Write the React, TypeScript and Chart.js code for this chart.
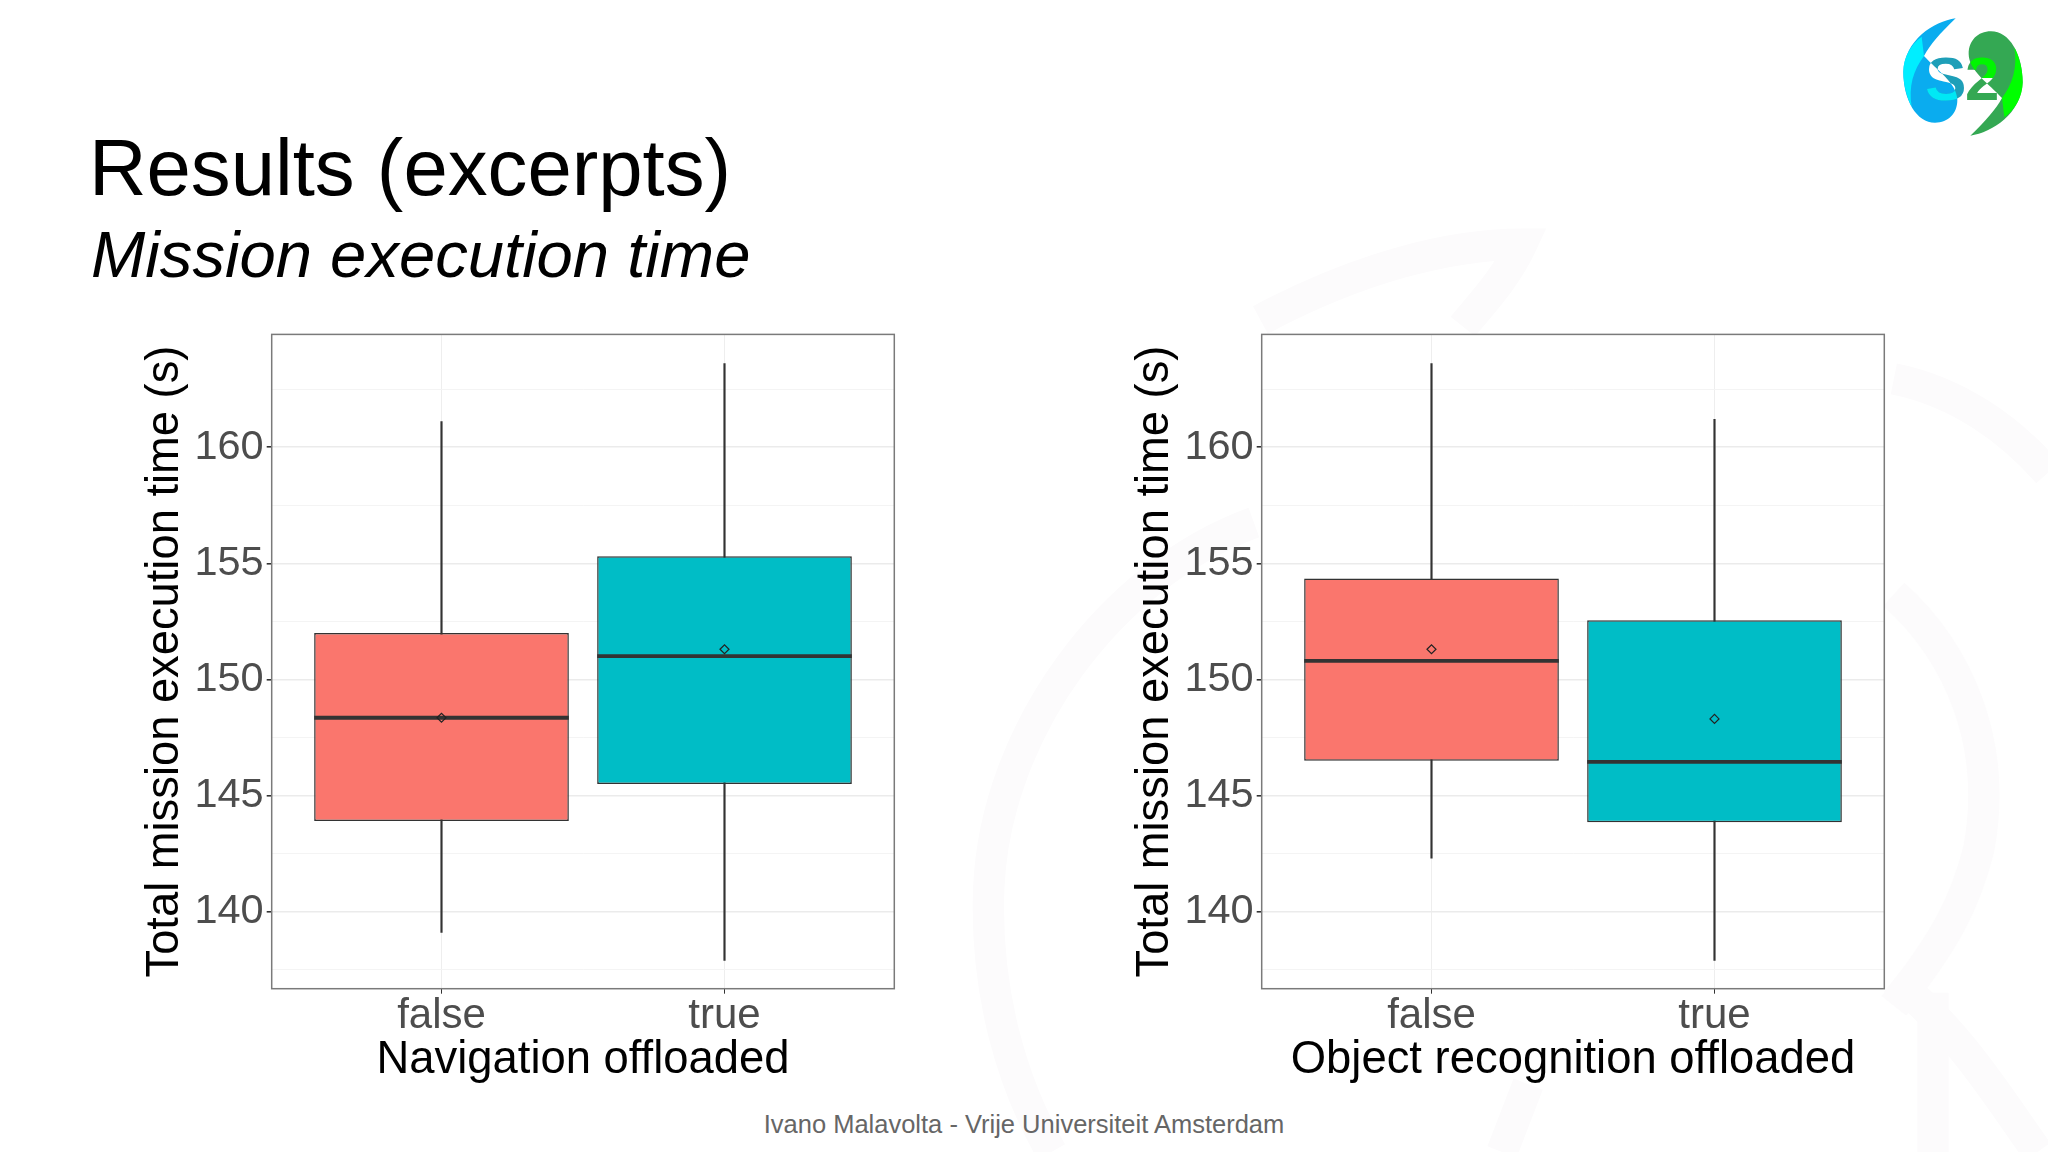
import { useEffect, useRef } from 'react';
import { Chart, registerables } from 'chart.js';

Chart.register(...registerables);

const categories = ['false', 'true'];
const categoryPositions = [1, 2];
const boxColors = ['#FA766D', '#00BDC6'];
const majorTicks = [140, 145, 150, 155, 160];
const allTicks = [137.5, 140, 142.5, 145, 147.5, 150, 152.5, 155, 157.5, 160, 162.5];

// left plot: navigation offloaded
const navLow = [139.1, 137.9];
const navQ1 = [143.9, 145.5];
const navMedian = [148.35, 151.0];
const navMean = [148.35, 151.3];
const navQ3 = [152.0, 155.3];
const navHigh = [161.1, 163.6];

// right plot: object recognition offloaded
const objLow = [142.3, 137.9];
const objQ1 = [146.5, 143.85];
const objMedian = [150.8, 146.45];
const objMean = [151.3, 148.3];
const objQ3 = [154.35, 152.55];
const objHigh = [163.6, 161.2];

const FONT = '"Liberation Sans", Arial, sans-serif';
const BOX_WIDTH = 0.9; // ggplot default, in category units

// white panel under the grid and the grey frame around it, as theme_bw does
const panelFrame = {
    id: 'panelFrame',
    beforeDraw(chart: Chart) {
        const { ctx, chartArea: a } = chart;
        ctx.save();
        ctx.fillStyle = '#ffffff';
        ctx.fillRect(a.left, a.top, a.width, a.height);
        ctx.restore();
    },
    afterDraw(chart: Chart) {
        const { ctx, chartArea: a } = chart;
        ctx.save();
        ctx.strokeStyle = '#7a7a7a';
        ctx.lineWidth = 1.5;
        ctx.strokeRect(a.left, a.top, a.width, a.height);
        ctx.restore();
    },
};

interface BoxPanelProps {
    left: number;
    xTitle: string;
    low: number[];
    q1: number[];
    median: number[];
    mean: number[];
    q3: number[];
    high: number[];
}

const BoxPanel = ({ left, xTitle, low, q1, median, mean, q3, high }: BoxPanelProps) => {
    const canvasRef = useRef<HTMLCanvasElement | null>(null);

    useEffect(() => {
        const ctx = canvasRef.current?.getContext('2d');
        if (!ctx) return;

        // each median is a short line across its box, with a gap between the two
        const medianSegments = categoryPositions.flatMap((x, i) => [
            { x: x - BOX_WIDTH / 2, y: median[i] },
            { x: x + BOX_WIDTH / 2, y: median[i] },
            { x: x + 0.5, y: null },
        ]);

        const chart = new Chart(ctx, {
            type: 'bar',
            data: {
                datasets: [
                    {
                        type: 'line',
                        label: 'mean',
                        data: categoryPositions.map((x, i) => ({ x, y: mean[i] })),
                        showLine: false,
                        pointStyle: 'rectRot',
                        pointRadius: 4.5,
                        pointBackgroundColor: 'rgba(0,0,0,0)',
                        pointBorderColor: '#222222',
                        pointBorderWidth: 1.2,
                        order: 0,
                    },
                    {
                        type: 'line',
                        label: 'median',
                        data: medianSegments,
                        borderColor: '#333333',
                        borderWidth: 3.8,
                        pointRadius: 0,
                        spanGaps: false,
                        order: 1,
                    },
                    {
                        type: 'bar',
                        label: 'box',
                        data: categoryPositions.map((x, i) => ({ x, y: [q1[i], q3[i]] })),
                        backgroundColor: boxColors,
                        borderColor: '#333333',
                        borderWidth: 1.5,
                        borderSkipped: false,
                        grouped: false,
                        barPercentage: BOX_WIDTH,
                        categoryPercentage: 1,
                        order: 2,
                    },
                    {
                        type: 'bar',
                        label: 'whisker',
                        data: categoryPositions.map((x, i) => ({ x, y: [low[i], high[i]] })),
                        backgroundColor: '#333333',
                        borderWidth: 0,
                        grouped: false,
                        barThickness: 1.5,
                        order: 3,
                    },
                ],
            },
            options: {
                animation: false,
                responsive: false,
                layout: { padding: { top: 6.4, right: 5.3, left: 0, bottom: 0 } },
                plugins: { legend: { display: false }, tooltip: { enabled: false } },
                scales: {
                    x: {
                        type: 'linear',
                        min: 0.4,
                        max: 2.6,
                        offset: false,
                        afterBuildTicks: (scale: any) => {
                            scale.ticks = categoryPositions.map((value) => ({ value }));
                        },
                        afterFit: (scale: any) => {
                            scale.height = 106.3;
                            scale.paddingLeft = 0;
                            scale.paddingRight = 0;
                        },
                        border: { display: false },
                        grid: { offset: false, color: '#EEEEEE', lineWidth: 1, tickColor: '#333333', tickLength: 5, drawOnChartArea: true },
                        ticks: {
                            autoSkip: false,
                            maxRotation: 0,
                            padding: -2.5,
                            color: '#4D4D4D',
                            font: { family: FONT, size: 42 },
                            callback: (value: any) => categories[categoryPositions.indexOf(Number(value))] ?? '',
                        },
                        title: {
                            display: true,
                            text: xTitle,
                            color: '#000000',
                            font: { family: FONT, size: 45.4 },
                            padding: { top: 0, bottom: 7 },
                        },
                    },
                    y: {
                        min: 136.68,
                        max: 164.86,
                        afterBuildTicks: (scale: any) => {
                            scale.ticks = allTicks.map((value) => ({ value }));
                        },
                        afterFit: (scale: any) => {
                            scale.width = 141.7;
                            scale.paddingTop = 0;
                            scale.paddingBottom = 0;
                        },
                        border: { display: false },
                        grid: {
                            color: (c: any) => (majorTicks.includes(c.tick?.value) ? '#EBEBEB' : '#F3F3F3'),
                            lineWidth: (c: any) => (majorTicks.includes(c.tick?.value) ? 1.6 : 0.9),
                            tickColor: (c: any) => (majorTicks.includes(c.tick?.value) ? '#333333' : 'rgba(0,0,0,0)'),
                            tickLength: 5,
                        },
                        ticks: {
                            autoSkip: false,
                            padding: 3,
                            color: '#4D4D4D',
                            font: { family: FONT, size: 41.5 },
                            callback: (value: any) => (majorTicks.includes(Number(value)) ? String(value) : ''),
                        },
                        title: {
                            display: true,
                            text: 'Total mission execution time (s)',
                            color: '#000000',
                            font: { family: FONT, size: 45.3 },
                            padding: { top: 8, bottom: 0 },
                        },
                    },
                },
            },
            plugins: [panelFrame],
        } as any);

        return () => {
            chart.destroy();
        };
    }, []);

    return (
        <canvas
            ref={canvasRef}
            width={770}
            height={767}
            style={{ position: 'absolute', left, top: 328, width: 770, height: 767 }}
        />
    );
};

const DROP = 'M317 55 C270 100 240 135 222 168 C260 210 322 250 322 300 C322 340 295 368 255 368 C200 368 160 300 160 215 C165 120 250 65 317 55 Z';
const CRESCENT = 'M215 110 C180 135 160 175 160 215 C160 255 170 290 185 320 C175 260 190 210 222 168 Z';

// the S2 logo: one drop, and the same drop turned around for the green half
const Logo = () => (
    <svg viewBox="0 0 594 480" width={198} height={160} style={{ position: 'absolute', left: 1850, top: 0 }}>
        <defs>
            <linearGradient id="sInside" x1="0" y1="0" x2="0" y2="1">
                <stop offset="0.62" stopColor="#ffffff" />
                <stop offset="0.62" stopColor="#00E8F5" />
            </linearGradient>
            <linearGradient id="twoInside" x1="0" y1="0" x2="0" y2="1">
                <stop offset="0.5" stopColor="#00F500" />
                <stop offset="0.5" stopColor="#ffffff" />
            </linearGradient>
            <clipPath id="blueDrop"><path d={DROP} /></clipPath>
            <clipPath id="greenDrop"><path d={DROP} transform="rotate(180 339 231)" /></clipPath>
        </defs>
        <path d={DROP} fill="#0AACEF" />
        <path d={CRESCENT} fill="#00EEFF" />
        <g transform="rotate(180 339 231)">
            <path d={DROP} fill="#34A853" />
            <path d={CRESCENT} fill="#00FF00" />
        </g>
        <text x="226" y="300" fontFamily={FONT} fontWeight="bold" fontSize="185" fill="#1E9FB8">S</text>
        <text x="226" y="300" fontFamily={FONT} fontWeight="bold" fontSize="185" fill="url(#sInside)" clipPath="url(#blueDrop)">S</text>
        <text x="345" y="300" fontFamily={FONT} fontWeight="bold" fontSize="185" fill="#34A853">2</text>
        <text x="345" y="300" fontFamily={FONT} fontWeight="bold" fontSize="185" fill="url(#twoInside)" clipPath="url(#greenDrop)">2</text>
    </svg>
);

// very pale logo outline behind the slide
const Watermark = () => (
    <svg viewBox="0 0 1568 882" width={2048} height={1152} style={{ position: 'absolute', left: 0, top: 0 }}>
        <g fill="none" stroke="#FCFBFC" strokeWidth="24">
            <path d="M965 245 C1040 205 1110 187 1165 187 C1152 215 1132 235 1120 250" />
            <path d="M960 400 C850 440 762 560 757 680 C754 760 775 830 805 882" />
            <path d="M1450 290 C1500 300 1540 330 1568 362" />
            <path d="M1450 455 C1500 500 1530 570 1515 650 C1505 690 1490 720 1450 770" />
            <path d="M1450 750 C1500 790 1530 840 1560 882" />
            <path d="M1150 882 L1170 830 M1480 882 L1480 760" />
        </g>
    </svg>
);

const App = () => {
    useEffect(() => {
        document.body.style.margin = '0';
    }, []);

    return (
        <div style={{ position: 'absolute', left: 0, top: 0, width: 2048, height: 1152, overflow: 'hidden', background: '#fff', fontFamily: FONT }}>
            <Watermark />
            <Logo />
            <div style={{ position: 'absolute', left: 89, top: 120, fontSize: 79.7, lineHeight: '96px', color: '#000', whiteSpace: 'nowrap' }}>
                Results (excerpts)
            </div>
            <div style={{ position: 'absolute', left: 91, top: 218, fontSize: 65.2, fontStyle: 'italic', lineHeight: '74px', color: '#000', whiteSpace: 'nowrap' }}>
                Mission execution time
            </div>
            <BoxPanel left={130} xTitle="Navigation offloaded" low={navLow} q1={navQ1} median={navMedian} mean={navMean} q3={navQ3} high={navHigh} />
            <BoxPanel left={1120} xTitle="Object recognition offloaded" low={objLow} q1={objQ1} median={objMedian} mean={objMean} q3={objQ3} high={objHigh} />
            <div style={{ position: 'absolute', left: 0, width: 2048, top: 1109, textAlign: 'center', fontSize: 25.5, lineHeight: '30px', color: '#666', whiteSpace: 'nowrap' }}>
                Ivano Malavolta - Vrije Universiteit Amsterdam
            </div>
        </div>
    );
};

export default App;
